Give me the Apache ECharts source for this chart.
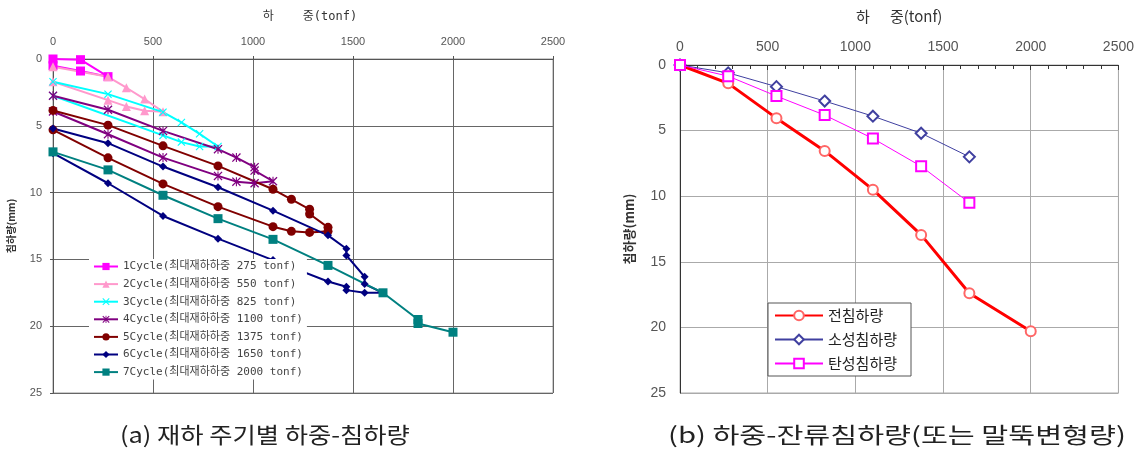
<!DOCTYPE html>
<html>
<head>
<meta charset="utf-8">
<script src="https://cdn.jsdelivr.net/npm/echarts@6/dist/echarts.min.js"></script>
<style>
    html, body { margin: 0; padding: 0; background: #fff; }
    #main { width: 1137px; height: 460px; }
</style>
</head>
<body>
<div id="main"></div>
<script>
// 축 눈금
var loadTicks = [0, 500, 1000, 1500, 2000, 2500];
var settleTicks = [0, 5, 10, 15, 20, 25];

// (a) 재하 주기별 하중-침하량 : [하중(tonf), 침하량(mm)]
var cycleNames = [
    '1Cycle(최대재하하중 275 tonf)',
    '2Cycle(최대재하하중 550 tonf)',
    '3Cycle(최대재하하중 825 tonf)',
    '4Cycle(최대재하하중 1100 tonf)',
    '5Cycle(최대재하하중 1375 tonf)',
    '6Cycle(최대재하하중 1650 tonf)',
    '7Cycle(최대재하하중 2000 tonf)'
];
var cycle1 = [[0, 0], [137.5, 0.05], [275, 1.32], [137.5, 0.9], [0, 0.5]];
var cycle2 = [[0, 0.58], [275, 1.33], [367, 2.15], [458, 3.0], [550, 3.95], [458, 3.88], [367, 3.55], [275, 3.08], [0, 1.7]];
var cycle3 = [[0, 1.7], [275, 2.63], [550, 3.98], [642, 4.75], [733, 5.6], [825, 6.55], [733, 6.55], [642, 6.22], [550, 5.72], [0, 2.75]];
var cycle4 = [[0, 2.75], [275, 3.8], [550, 5.38], [825, 6.75], [917, 7.38], [1008, 8.1], [1008, 8.35], [1100, 9.15], [1008, 9.3], [917, 9.18], [825, 8.75], [550, 7.38], [275, 5.63], [0, 3.93]];
var cycle5 = [[0, 3.85], [275, 4.95], [550, 6.5], [825, 8.0], [1100, 9.75], [1192, 10.5], [1283, 11.25], [1283, 11.6], [1375, 12.6], [1375, 12.9], [1283, 12.98], [1192, 12.9], [1100, 12.55], [825, 11.05], [550, 9.35], [275, 7.4], [0, 5.3]];
var cycle6 = [[0, 5.2], [275, 6.3], [550, 8.05], [825, 9.6], [1100, 11.35], [1375, 13.2], [1467, 14.2], [1467, 14.7], [1558, 16.3], [1558, 16.85], [1650, 17.5], [1558, 17.5], [1467, 17.3], [1467, 17.05], [1375, 16.65], [1100, 15.05], [825, 13.45], [550, 11.75], [275, 9.3], [0, 7.05]];
var cycle7 = [[0, 6.95], [275, 8.3], [550, 10.2], [825, 11.95], [1100, 13.5], [1375, 15.45], [1650, 17.5], [1825, 19.5], [1825, 19.8], [2000, 20.45]];

// (b) 하중-잔류침하량
var residualLoads = [0, 275, 550, 825, 1100, 1375, 1650, 2000];
var totalSettle = [0, 1.4, 4.05, 6.55, 9.5, 12.95, 17.4, 20.3];
var plasticSettle = [0, 0.6, 1.65, 2.75, 3.9, 5.2, 7.0];
var elasticSettle = [0, 0.85, 2.37, 3.82, 5.6, 7.72, 10.5];

function pairs(xs, ys) {
    return ys.map(function (y, i) { return [xs[i], y]; });
}

// 마커 모양 (X, 별표)
var xMark = 'path://M0,1L1,0L5,4L9,0L10,1L6,5L10,9L9,10L5,6L1,10L0,9L4,5Z';
var starMark = 'path://M0,1L1,0L5,4L9,0L10,1L6,5L10,9L9,10L5,6L1,10L0,9L4,5Z M4.4,0L5.6,0L5.6,10L4.4,10Z';

var cycleData = [cycle1, cycle2, cycle3, cycle4, cycle5, cycle6, cycle7];
var cycleColors = ['#ff00ff', '#ff99cc', '#00ffff', '#800080', '#800000', '#000080', '#008080'];
var cycleSymbols = ['rect', 'triangle', xMark, starMark, 'circle', 'diamond', 'rect'];
var cycleSizes = [9, 9, 8, 9, 9, 8, 9];

var monoFont = 'DejaVu Sans Mono, Noto Sans CJK KR, monospace';
var krFont = 'Noto Sans CJK KR, sans-serif';
var plainNum = function (v) { return String(v); };

var leftSeries = cycleData.map(function (d, i) {
    return {
        name: cycleNames[i],
        type: 'line',
        xAxisIndex: 0,
        yAxisIndex: 0,
        data: d,
        symbol: cycleSymbols[i],
        symbolSize: cycleSizes[i],
        lineStyle: { width: 2, color: cycleColors[i] },
        itemStyle: { color: cycleColors[i] }
    };
});

var rightSeries = [
    {
        name: '전침하량', type: 'line', xAxisIndex: 1, yAxisIndex: 1,
        data: pairs(residualLoads, totalSettle),
        symbol: 'emptyCircle', symbolSize: 10,
        lineStyle: { width: 3, color: '#ff0000' },
        itemStyle: { color: '#ff6666', borderWidth: 1 }
    },
    {
        name: '소성침하량', type: 'line', xAxisIndex: 1, yAxisIndex: 1,
        data: pairs(residualLoads, plasticSettle),
        symbol: 'emptyDiamond', symbolSize: 11,
        lineStyle: { width: 1, color: '#4040a0' },
        itemStyle: { color: '#4040a0', borderWidth: 1 }
    },
    {
        name: '탄성침하량', type: 'line', xAxisIndex: 1, yAxisIndex: 1,
        data: pairs(residualLoads, elasticSettle),
        symbol: 'emptyRect', symbolSize: 10,
        lineStyle: { width: 1, color: '#ff00ff' },
        itemStyle: { color: '#ff00ff', borderWidth: 1.2 }
    }
];

var chart = echarts.init(document.getElementById('main'));
var option = {
    animation: false,
    backgroundColor: '#fff',
    grid: [
        { left: 53, top: 59, width: 500, height: 334, show: true, borderColor: '#999', borderWidth: 1 },
        { left: 680, top: 65, width: 440, height: 328, show: true, borderColor: '#aaa', borderWidth: 1 }
    ],
    xAxis: [
        {
            gridIndex: 0, type: 'value', position: 'top',
            min: loadTicks[0], max: loadTicks[loadTicks.length - 1], interval: 500,
            name: '하    중(tonf)', nameLocation: 'middle', nameGap: 36,
            nameTextStyle: { fontSize: 12, color: '#333', fontFamily: monoFont, padding: [0, 0, 0, 14] },
            axisLine: { lineStyle: { color: '#555' } },
            axisTick: { show: true, length: 3, lineStyle: { color: '#555' } },
            axisLabel: { fontSize: 11, color: '#555', margin: 12, fontFamily: 'Liberation Sans, sans-serif', formatter: plainNum },
            splitLine: { lineStyle: { color: '#666', width: 1 } }
        },
        {
            gridIndex: 1, type: 'value', position: 'top',
            min: loadTicks[0], max: loadTicks[loadTicks.length - 1], interval: 500,
            name: '하      중(tonf)', nameLocation: 'middle', nameGap: 41,
            nameTextStyle: { fontSize: 15, color: '#333', fontFamily: krFont },
            axisLine: { lineStyle: { color: '#333' } },
            axisTick: { show: true, inside: true, length: 5, lineStyle: { color: '#333' } },
            minorTick: { show: true, splitNumber: 5, length: 4, lineStyle: { color: '#333' } },
            axisLabel: { fontSize: 14, color: '#555', margin: 11, fontFamily: 'Liberation Sans, sans-serif', formatter: plainNum },
            splitLine: { lineStyle: { color: '#aaa', width: 1 } }
        }
    ],
    yAxis: [
        {
            gridIndex: 0, type: 'value', inverse: true,
            min: settleTicks[0], max: settleTicks[settleTicks.length - 1], interval: 5,
            name: '침하량(mm)', nameLocation: 'middle', nameGap: 37, nameRotate: 90,
            nameTextStyle: { fontSize: 10, fontWeight: 'bold', color: '#333', fontFamily: krFont },
            axisLine: { show: true, lineStyle: { color: '#555' } },
            axisTick: { show: true, length: 3, lineStyle: { color: '#555' } },
            axisLabel: { fontSize: 11, color: '#555', margin: 11, fontFamily: 'Liberation Sans, sans-serif' },
            splitLine: { lineStyle: { color: '#666', width: 1 } }
        },
        {
            gridIndex: 1, type: 'value', inverse: true,
            min: settleTicks[0], max: settleTicks[settleTicks.length - 1], interval: 5,
            name: '침하량(mm)', nameLocation: 'middle', nameGap: 44, nameRotate: 90,
            nameTextStyle: { fontSize: 13, fontWeight: 'bold', color: '#333', fontFamily: krFont },
            axisLine: { show: true, lineStyle: { color: '#333' } },
            axisTick: { show: false },
            axisLabel: { fontSize: 14, color: '#555', margin: 14, fontFamily: 'Liberation Sans, sans-serif' },
            splitLine: { lineStyle: { color: '#aaa', width: 1 } }
        }
    ],
    legend: [
        {
            data: cycleNames,
            orient: 'vertical', left: 89, top: 259,
            backgroundColor: '#fff', padding: [2, 4],
            itemWidth: 24, itemHeight: 9, itemGap: 6.6,
            textStyle: { fontSize: 11, color: '#444', fontFamily: monoFont }
        },
        {
            data: ['전침하량', '소성침하량', '탄성침하량'],
            orient: 'vertical', left: 768, top: 303,
            backgroundColor: '#fff', borderColor: '#555', borderWidth: 1,
            padding: [5, 14, 5, 6],
            itemWidth: 48, itemHeight: 12, itemGap: 9,
            textStyle: { fontSize: 15, color: '#222', fontFamily: krFont }
        }
    ],
    graphic: [
        {
            type: 'text', left: 120, top: 424, scaleX: 1.15,
            style: { text: '(a) 재하 주기별 하중-침하량', font: '22px "Noto Sans CJK KR"', fill: '#222' }
        },
        {
            type: 'text', left: 668, top: 424, scaleX: 1.33,
            style: { text: '(b) 하중-잔류침하량(또는 말뚝변형량)', font: '22px "Noto Sans CJK KR"', fill: '#222' }
        }
    ],
    series: leftSeries.concat(rightSeries)
};
chart.setOption(option);
</script>
</body>
</html>
